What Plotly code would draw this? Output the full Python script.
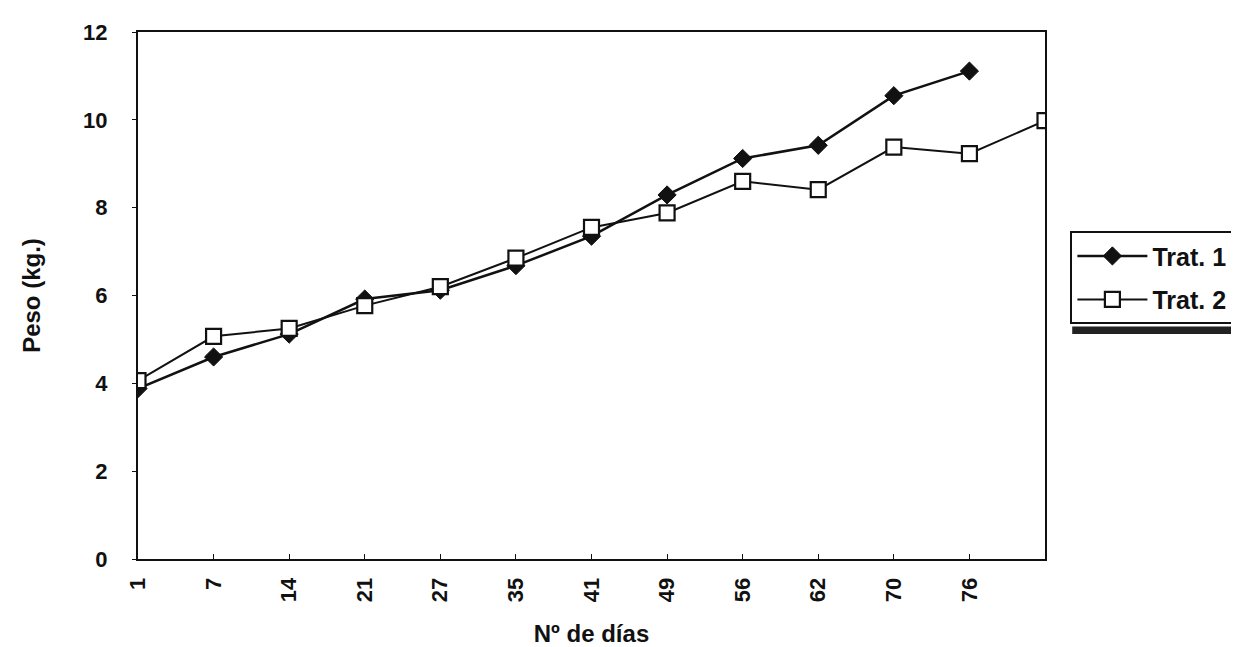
import plotly.graph_objects as go

dias = ["1", "7", "14", "21", "27", "35", "41", "49", "56", "62", "70", "76"]
trat1 = [3.88, 4.6, 5.12, 5.92, 6.12, 6.68, 7.35, 8.29, 9.12, 9.42, 10.55, 11.11]
trat2 = [4.06, 5.07, 5.25, 5.77, 6.2, 6.85, 7.55, 7.88, 8.6, 8.41, 9.38, 9.23, 9.98]
y_ticks = [0, 2, 4, 6, 8, 10, 12]

x1 = list(range(len(trat1)))
x2 = list(range(len(trat2)))

fig = go.Figure()
fig.add_trace(go.Scatter(
    x=x1, y=trat1, name="<b>Trat. 1</b>", mode="lines+markers", legendgroup="a",
    line=dict(color="#111", width=2.5),
    marker=dict(symbol="diamond", size=14, color="#111", line=dict(color="#111", width=1))))
fig.add_trace(go.Scatter(
    x=x2, y=trat2, name="<b>Trat. 2</b>", mode="lines+markers", legendgroup="b",
    line=dict(color="#111", width=2),
    marker=dict(symbol="square", size=15, color="white", line=dict(color="#111", width=2.2))))

font = "Arial, Liberation Sans, sans-serif"
fig.update_layout(
    width=1239, height=647,
    margin=dict(l=130, r=202, t=16, b=95),
    paper_bgcolor="white", plot_bgcolor="white",
    font=dict(family=font, color="#111"),
    showlegend=True,
    legend=dict(x=1.028, y=0.622, xanchor="left", yanchor="top",
                bordercolor="#111", borderwidth=2, bgcolor="white",
                font=dict(size=25, family=font, color="#111"),
                traceorder="grouped", tracegroupgap=8, itemwidth=70),
    xaxis=dict(range=[0, 12], tickvals=x1, ticktext=["<b>%s</b>" % d for d in dias], tickangle=-90,
               showgrid=False, zeroline=False, showline=True, linecolor="#111",
               linewidth=2, mirror=True, ticks="inside", ticklen=5, tickcolor="#111",
               ticklabelstandoff=8,
               tickfont=dict(size=22, family=font, color="#111"),
               title=dict(text="<b>Nº de días</b>", font=dict(size=24, family=font), standoff=24)),
    yaxis=dict(range=[0, 12], tickvals=y_ticks, ticktext=["<b>%d</b>" % v for v in y_ticks],
               showgrid=False, zeroline=False,
               showline=True, linecolor="#111", linewidth=2, mirror=True,
               ticks="outside", ticklen=4, tickcolor="#111",
               ticklabelstandoff=20,
               tickfont=dict(size=22, family=font, color="#111"),
               title=dict(text="<b>Peso (kg.)</b>", font=dict(size=24, family=font), standoff=36)),
)
fig.add_shape(type="rect", xref="paper", yref="paper",
              x0=1.030, x1=1.222, y0=0.427, y1=0.441,
              fillcolor="#222", line=dict(width=0))
fig.write_html("out.html")
